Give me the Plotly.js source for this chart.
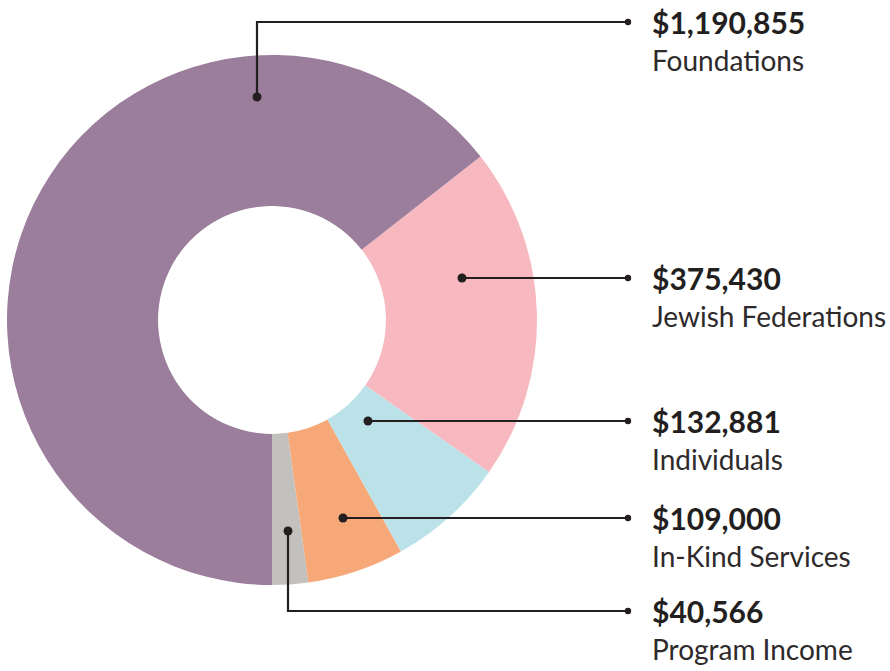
<!DOCTYPE html>
<html>
<head>
<meta charset="utf-8">
<script src="https://cdn.plot.ly/plotly-3.0.1.min.js"></script>
<style>html,body{margin:0;padding:0;background:#fff;}#chart{width:890px;height:671px;}</style>
</head>
<body>
<div id="chart"></div>
<script>
// Data (in drawing order, starting at 6 o'clock, counterclockwise)
var categories = ["Program Income", "In-Kind Services", "Individuals", "Jewish Federations", "Foundations"];
var amounts = [40566, 109000, 132881, 375430, 1190855];
var sliceColors = ["#c3c1be", "#f6a878", "#bae2e8", "#f7b9bf", "#9a7e9b"];

var W = 890, H = 671;
function px(x) { return x / W; }
function py(y) { return 1 - y / H; }

// Callout geometry (pixel positions in the page): anchor dot, optional elbow, label row
var callouts = [
  {ax: 288, ay: 531, elbowY: 611, textY: 611},
  {ax: 343, ay: 518, elbowY: null, textY: 518},
  {ax: 368, ay: 421, elbowY: null, textY: 421},
  {ax: 462, ay: 278, elbowY: null, textY: 278},
  {ax: 257, ay: 97, elbowY: 22, textY: 22}
];
var lineEndX = 628, textX = 650;
var ink = "#231f20";

var shapes = [], annotations = [];
callouts.forEach(function (c, i) {
  var path;
  if (c.elbowY !== null) {
    path = "M " + c.ax + " " + c.ay + " L " + c.ax + " " + c.elbowY + " L " + lineEndX + " " + c.elbowY;
  } else {
    path = "M " + c.ax + " " + c.ay + " L " + lineEndX + " " + c.ay;
  }
  var pts = path.split(" ");
  var out = [];
  for (var k = 0; k < pts.length; k++) {
    if (pts[k] === "M" || pts[k] === "L") { out.push(pts[k]); continue; }
    var x = parseFloat(pts[k]), y = parseFloat(pts[k + 1]); k++;
    out.push(px(x) + "," + py(y));
  }
  shapes.push({type: "path", xref: "paper", yref: "paper", path: out.join(" "),
    line: {color: ink, width: 2.2}});
  shapes.push({type: "circle", xref: "paper", yref: "paper", xsizemode: "pixel", ysizemode: "pixel",
    xanchor: px(c.ax), yanchor: py(c.ay), x0: -4.5, x1: 4.5, y0: -4.5, y1: 4.5,
    fillcolor: ink, line: {width: 0}});
  var ey = c.elbowY !== null ? c.elbowY : c.ay;
  shapes.push({type: "circle", xref: "paper", yref: "paper", xsizemode: "pixel", ysizemode: "pixel",
    xanchor: px(lineEndX), yanchor: py(ey), x0: -3.2, x1: 3.2, y0: -3.2, y1: 3.2,
    fillcolor: ink, line: {width: 0}});
  annotations.push({xref: "paper", yref: "paper", x: px(textX), y: py(c.textY), xanchor: "left", yanchor: "middle",
    showarrow: false, text: "<b>$" + amounts[i].toLocaleString("en-US") + "</b>",
    font: {family: "Lato, 'Open Sans', sans-serif", size: 30, color: ink}});
  annotations.push({xref: "paper", yref: "paper", x: px(textX), y: py(c.textY + 38), xanchor: "left", yanchor: "middle",
    showarrow: false, text: categories[i],
    font: {family: "Lato, 'Open Sans', sans-serif", size: 28, color: "#2e2a2b"}});
});

var total = amounts.reduce(function (a, b) { return a + b; }, 0);

var trace = {
  type: "pie",
  labels: categories,
  values: amounts,
  marker: {colors: sliceColors, line: {width: 0}},
  hole: 0.43,
  sort: false,
  direction: "counterclockwise",
  rotation: 180 - 360 * amounts[0] / total,
  textinfo: "none",
  hoverinfo: "label+value",
  showlegend: false,
  domain: {x: [px(7), px(537)], y: [py(585), py(55)]}
};

var layout = {
  width: W, height: H,
  margin: {l: 0, r: 0, t: 0, b: 0},
  paper_bgcolor: "#ffffff",
  plot_bgcolor: "#ffffff",
  showlegend: false,
  shapes: shapes,
  annotations: annotations
};

Plotly.newPlot("chart", [trace], layout, {displayModeBar: false, staticPlot: true});
</script>
</body>
</html>
